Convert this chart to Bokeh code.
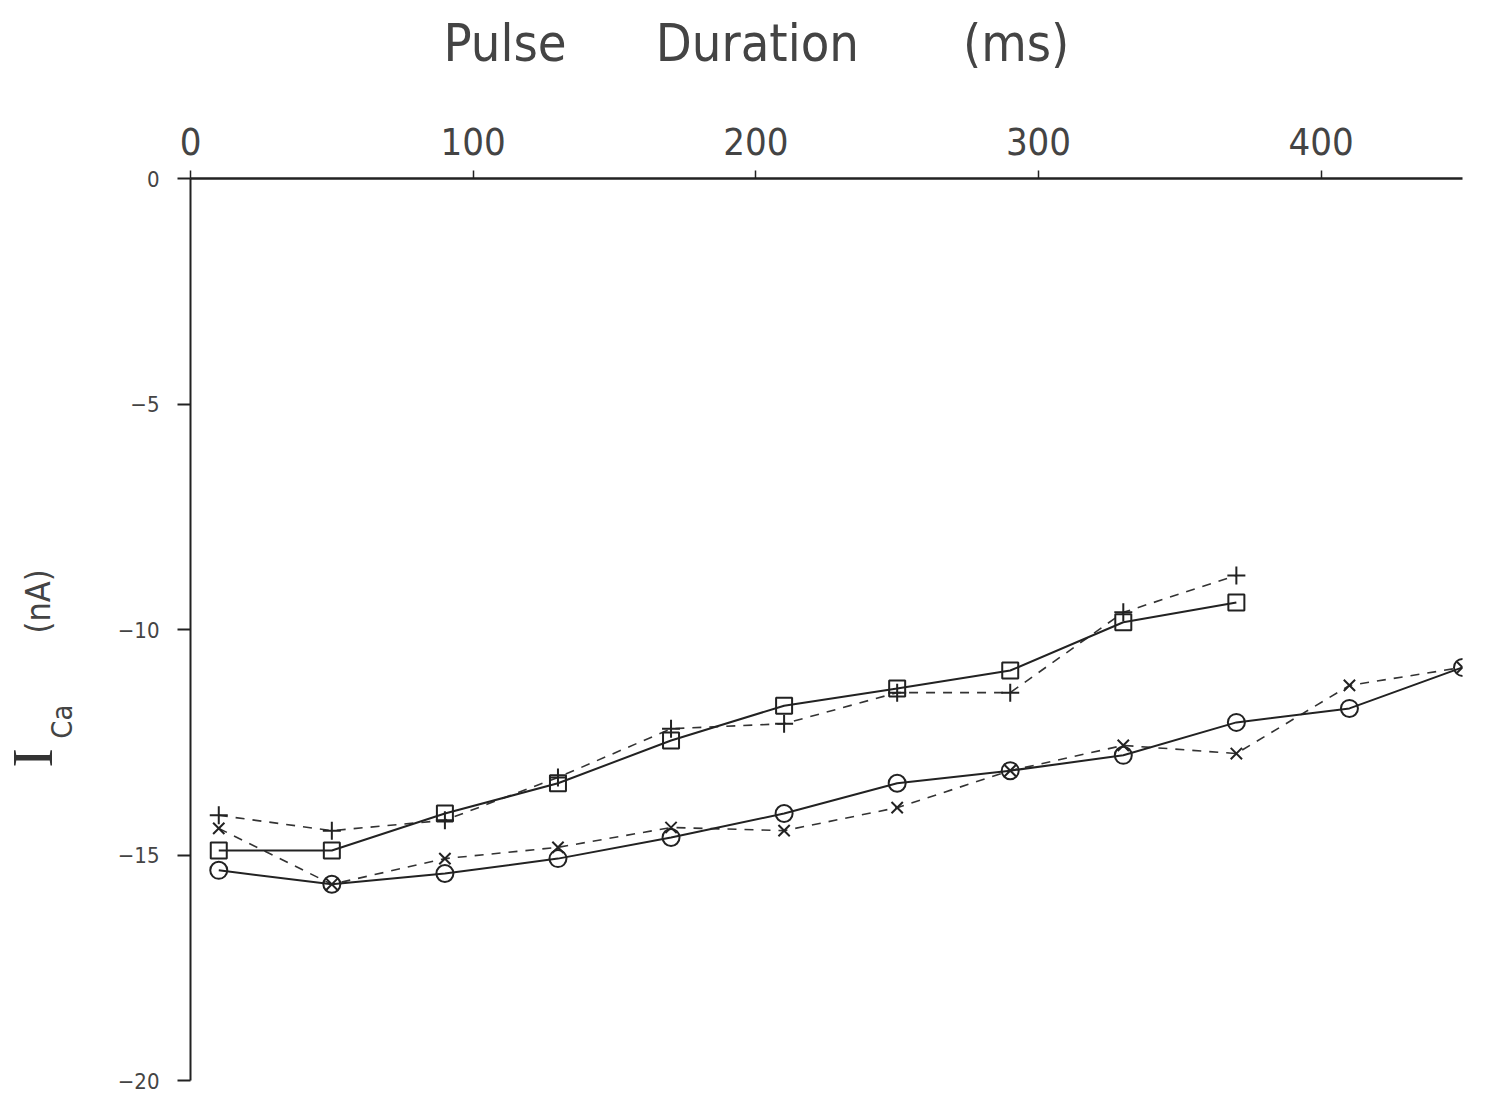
import math
from bokeh.plotting import figure
from bokeh.models import Range1d, FixedTicker, LinearAxis, Label
from bokeh.embed import file_html
from bokeh.resources import INLINE

# Pulse durations (ms) and calcium currents (nA)
t_short = [10, 50, 90, 130, 170, 210, 250, 290, 330, 370]
t_long = [10, 50, 90, 130, 170, 210, 250, 290, 330, 370, 410, 450]

ica_square = [-14.90, -14.90, -14.08, -13.41, -12.46, -11.69, -11.31, -10.91, -9.84, -9.40]
ica_plus = [-14.12, -14.46, -14.23, -13.28, -12.20, -12.09, -11.40, -11.40, -9.62, -8.80]
ica_circle = [-15.34, -15.65, -15.41, -15.08, -14.61, -14.08, -13.41, -13.13, -12.79, -12.06, -11.75, -10.84]
ica_cross = [-14.41, -15.65, -15.08, -14.83, -14.39, -14.46, -13.95, -13.13, -12.57, -12.75, -11.24, -10.84]

x_ticks = [0, 100, 200, 300, 400]
y_ticks = [0, -5, -10, -15, -20]

FONT = "DejaVu Sans Condensed"
INK = "#222222"
TXT = "#444444"
NB = "\u00a0"

p = figure(width=1485, height=1098, output_backend="svg", toolbar_location=None,
           x_range=Range1d(0, 450), y_range=Range1d(-20, 0),
           x_axis_location=None, y_axis_location=None,
           min_border_left=190, min_border_right=23, min_border_top=178, min_border_bottom=18)
p.background_fill_color = "white"
p.border_fill_color = "white"
p.outline_line_color = None
p.xgrid.grid_line_color = None
p.ygrid.grid_line_color = None

# top axis: pulse duration
xa = LinearAxis(ticker=FixedTicker(ticks=x_ticks))
xa.axis_line_color = INK
xa.axis_line_width = 2.5
xa.major_tick_line_color = INK
xa.major_tick_line_width = 1.5
xa.major_tick_out = 8
xa.major_tick_in = 0
xa.minor_tick_line_color = None
xa.major_label_text_font = FONT
xa.major_label_text_font_size = "38px"
xa.major_label_text_color = TXT
xa.major_label_standoff = 16
p.add_layout(xa, "above")

# left axis: calcium current
ya = LinearAxis(ticker=FixedTicker(ticks=y_ticks))
ya.axis_line_color = INK
ya.axis_line_width = 2
ya.major_tick_line_color = INK
ya.major_tick_line_width = 2
ya.major_tick_out = 13
ya.major_tick_in = 0
ya.minor_tick_line_color = None
ya.major_label_text_font = FONT
ya.major_label_text_font_size = "22px"
ya.major_label_text_color = TXT
ya.major_label_standoff = 18
p.add_layout(ya, "left")

# series lines
p.line(t_short, ica_plus, line_color="#333333", line_width=1.6, line_dash="9 8")
p.line(t_long, ica_cross, line_color="#333333", line_width=1.6, line_dash="9 8")
p.line(t_short, ica_square, line_color=INK, line_width=2)
p.line(t_long, ica_circle, line_color=INK, line_width=2)

# series markers
p.scatter(t_short, ica_square, marker="square", size=16, fill_alpha=0,
          line_color=INK, line_width=2)
p.scatter(t_short, ica_plus, marker="cross", size=18, line_color=INK, line_width=2)
p.scatter(t_long, ica_circle, marker="circle", size=17, fill_alpha=0,
          line_color=INK, line_width=2)
p.scatter(t_long, ica_cross, marker="x", size=16, line_color=INK, line_width=2)

# chart title over the top axis
p.add_layout(Label(x=89.5, y=3.0, text="Pulse" + NB * 6 + "Duration" + NB * 7 + "(ms)",
                   text_font=FONT, text_font_size="52px", text_color=TXT,
                   text_align="left", text_baseline="alphabetic"), "above")

# y label: I_Ca (nA), rotated, in the border area
p.add_layout(Label(x=-55.9, y=-13.06, text="I", angle=math.pi / 2,
                   text_font="Liberation Serif", text_font_size="58px",
                   text_color="#333333", text_align="left", text_baseline="alphabetic"), "left")
p.add_layout(Label(x=-45.3, y=-12.42, text="Ca", angle=math.pi / 2,
                   text_font=FONT, text_font_size="29px",
                   text_color=TXT, text_align="left", text_baseline="alphabetic"), "above")
p.add_layout(Label(x=-54.1, y=-10.09, text="(nA)", angle=math.pi / 2,
                   text_font=FONT, text_font_size="34px",
                   text_color=TXT, text_align="left", text_baseline="alphabetic"), "left")

open("out.html", "w").write(file_html(p, INLINE))
